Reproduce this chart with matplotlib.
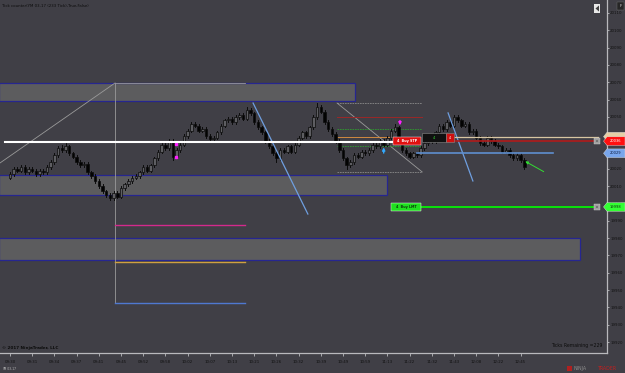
import matplotlib
matplotlib.use('Agg')
import matplotlib.pyplot as plt
from matplotlib.patches import Rectangle, Polygon
import matplotlib.transforms as mtransforms

# ---------------- data (233 tick bars, YM 03-17) ----------------
opens = [20015, 20017, 20020, 20019, 20021, 20018, 20020, 20019, 20017, 20019,
         20018, 20021, 20024, 20028, 20032, 20031, 20033, 20029, 20027, 20024,
         20022, 20023, 20018, 20016, 20013, 20010, 20007, 20005, 20003, 20006,
         20004, 20009, 20011, 20013, 20015, 20016, 20018, 20021, 20019, 20022,
         20026, 20030, 20034, 20032, 20036, 20027, 20031, 20034, 20039, 20042,
         20046, 20045, 20042, 20043, 20039, 20037, 20038, 20041, 20045, 20048,
         20049, 20047, 20050, 20051, 20049, 20054, 20052, 20047, 20044, 20041,
         20036, 20033, 20029, 20026, 20031, 20030, 20033, 20030, 20034, 20038,
         20041, 20039, 20044, 20050, 20056, 20053, 20047, 20043, 20040, 20036,
         20031, 20026, 20022, 20024, 20028, 20027, 20030, 20029, 20031, 20034,
         20033, 20036, 20034, 20038, 20042, 20044, 20036, 20031, 20029, 20027,
         20029, 20028, 20032, 20035, 20038, 20036, 20041, 20045, 20043, 20047,
         20045, 20050, 20048, 20045, 20046, 20041, 20042, 20038, 20035, 20034,
         20038, 20036, 20034, 20033, 20030, 20031, 20028, 20026, 20028, 20025]
highs = [20018, 20021, 20021, 20022, 20022, 20021, 20021, 20020, 20020, 20020,
         20022, 20025, 20029, 20033, 20034, 20035, 20034, 20030, 20028, 20025,
         20024, 20024, 20019, 20017, 20014, 20011, 20008, 20006, 20007, 20007,
         20010, 20012, 20014, 20016, 20017, 20019, 20022, 20022, 20023, 20027,
         20031, 20035, 20035, 20037, 20037, 20032, 20035, 20040, 20043, 20047,
         20047, 20046, 20044, 20044, 20040, 20039, 20042, 20046, 20049, 20050,
         20050, 20051, 20052, 20052, 20056, 20055, 20053, 20048, 20045, 20042,
         20037, 20034, 20030, 20032, 20032, 20034, 20034, 20035, 20039, 20042,
         20042, 20045, 20051, 20058, 20057, 20054, 20048, 20044, 20041, 20037,
         20032, 20027, 20025, 20029, 20029, 20031, 20031, 20032, 20035, 20035,
         20037, 20037, 20039, 20043, 20046, 20045, 20037, 20032, 20030, 20030,
         20030, 20033, 20036, 20039, 20039, 20042, 20046, 20046, 20048, 20048,
         20051, 20051, 20049, 20047, 20047, 20043, 20043, 20039, 20036, 20039,
         20039, 20037, 20035, 20034, 20032, 20032, 20029, 20029, 20029, 20026]
lows = [20014, 20016, 20018, 20018, 20017, 20017, 20018, 20016, 20016, 20017,
        20017, 20020, 20023, 20027, 20030, 20030, 20028, 20026, 20023, 20021,
        20021, 20017, 20015, 20012, 20009, 20006, 20004, 20002, 20002, 20003,
        20003, 20008, 20010, 20012, 20014, 20015, 20017, 20018, 20018, 20021,
        20025, 20029, 20031, 20031, 20025, 20026, 20030, 20033, 20038, 20041,
        20044, 20041, 20041, 20038, 20036, 20036, 20037, 20040, 20044, 20047,
        20046, 20046, 20049, 20048, 20048, 20051, 20046, 20043, 20040, 20035,
        20032, 20028, 20024, 20025, 20029, 20029, 20029, 20029, 20033, 20037,
        20038, 20038, 20043, 20049, 20052, 20046, 20042, 20039, 20035, 20030,
        20025, 20020, 20021, 20023, 20026, 20026, 20028, 20028, 20030, 20032,
        20032, 20033, 20033, 20037, 20041, 20035, 20030, 20028, 20026, 20026,
        20027, 20027, 20031, 20034, 20035, 20035, 20040, 20042, 20042, 20044,
        20044, 20047, 20044, 20044, 20040, 20040, 20037, 20034, 20033, 20033,
        20035, 20033, 20032, 20029, 20029, 20027, 20025, 20025, 20024, 20020]
closes = [20017, 20020, 20019, 20021, 20018, 20020, 20019, 20017, 20019, 20018,
          20021, 20024, 20028, 20032, 20031, 20033, 20029, 20027, 20024, 20022,
          20023, 20018, 20016, 20013, 20010, 20007, 20005, 20003, 20006, 20004,
          20009, 20011, 20013, 20015, 20016, 20018, 20021, 20019, 20022, 20026,
          20030, 20034, 20032, 20036, 20027, 20031, 20034, 20039, 20042, 20046,
          20045, 20042, 20043, 20039, 20037, 20038, 20041, 20045, 20048, 20049,
          20047, 20050, 20051, 20049, 20054, 20052, 20047, 20044, 20041, 20036,
          20033, 20029, 20026, 20031, 20030, 20033, 20030, 20034, 20038, 20041,
          20039, 20044, 20050, 20056, 20053, 20047, 20043, 20040, 20036, 20031,
          20026, 20022, 20024, 20028, 20027, 20030, 20029, 20031, 20034, 20033,
          20036, 20034, 20038, 20042, 20044, 20036, 20031, 20029, 20027, 20029,
          20028, 20032, 20035, 20038, 20036, 20041, 20045, 20043, 20047, 20045,
          20050, 20048, 20045, 20046, 20041, 20042, 20038, 20035, 20034, 20038,
          20036, 20034, 20033, 20030, 20031, 20028, 20026, 20028, 20025, 20021]

time_labels = ['09:30', '09:31', '09:34', '09:37', '09:41', '09:45', '09:52', '09:58',
               '10:02', '10:07', '10:13', '10:21', '10:26', '10:32', '10:39', '10:49',
               '10:59', '11:13', '11:22', '11:32', '11:43', '12:08', '12:22', '12:45']
label_bars = list(range(0, 139, 6))
price_ticks = list(range(19920, 20111, 10))

# drawing objects (bar index, price)
zone_start = [-3, -3, -3]
zone_end = [93.2, 101.9, 154.1]
zone_low = [20059.1, 20004.8, 19967.3]
zone_high = [20069.5, 20016.4, 19980.0]

fib_x = [28.4, 63.5]
fib_top = 20069.6
fib_levels = [19987.6, 19966.2, 19942.5]
fib_colors = ['#d42a8c', '#d0a040', '#4f78d0']
ray_x = [-2.7, 28.4]
ray_y = [20023.4, 20069.6]

trend1_x = [65.7, 80.5]
trend1_y = [20058.0, 19993.9]
trend2_x = [118.4, 125.1]
trend2_y = [20052.3, 20013.0]

tool_x = [88.4, 111.4]
tool_y = [20058.0, 20018.2]
tool_red = 20049.9
tool_green = [20043.0, 20033.2]
tool_orange = 20038.4

white_level = 20035.4
white_x = [-1.4, 104.0]
tan_level = 20038.2
red_level = 20036
blue_level = 20029
green_level = 19998
order_end = 158.9

# ---------------- figure ----------------
W, H = 625, 373
BG = '#403f46'
fig = plt.figure(figsize=(W / 100, H / 100), dpi=100, facecolor=BG)
ax = fig.add_axes([0, 20 / H, 607 / W, 353 / H])
ax.set_facecolor(BG)
ax.set_xlim(-2.7027, 161.35)
ax.set_ylim(20110 - 340 / 1.7316, 20110 + 13 / 1.7316)

for s in ['top', 'left']:
    ax.spines[s].set_visible(False)
for s in ['right', 'bottom']:
    ax.spines[s].set_color('#b9b9bd')
    ax.spines[s].set_linewidth(0.9)

ax.yaxis.tick_right()
ax.set_yticks(price_ticks)
ax.set_yticklabels([str(p) for p in price_ticks])
ax.tick_params(axis='y', direction='out', length=1.6, width=0.6, colors='#b9b9bd',
               labelcolor='#111111', labelsize=2.8, pad=0.6)
ax.set_xticks(label_bars)
ax.set_xticklabels(time_labels)
ax.tick_params(axis='x', direction='out', length=1.8, width=0.6, colors='#b9b9bd',
               labelcolor='#111111', labelsize=2.8, pad=3.5)

# zones
for x0, x1, lo, hi in zip(zone_start, zone_end, zone_low, zone_high):
    ax.add_patch(Rectangle((x0, lo), x1 - x0, hi - lo, facecolor='#5c5c5e',
                           edgecolor='#262690', linewidth=0.9, zorder=1))

# fib tool on the left
ax.plot(ray_x, ray_y, color='#9a9a9a', lw=0.6, zorder=2)
ax.plot(fib_x, [fib_top, fib_top], color='#9a9a9a', lw=0.6, zorder=2)
ax.plot([fib_x[0], fib_x[0]], [fib_levels[-1], fib_top], color='#9a9a9a', lw=0.6, zorder=2)
for lv, c in zip(fib_levels, fib_colors):
    ax.plot(fib_x, [lv, lv], color=c, lw=1.0, zorder=2)

# tool in the middle
ax.plot(tool_x, [tool_y[0], tool_y[0]], color='#8a8a8a', lw=0.6, ls=(0, (2, 1)), zorder=2)
ax.plot(tool_x, [tool_y[1], tool_y[1]], color='#8a8a8a', lw=0.6, ls=(0, (2, 1)), zorder=2)
ax.plot(tool_x, tool_y, color='#9a9a9a', lw=0.6, zorder=2)
ax.plot(tool_x, [tool_red, tool_red], color='#9a2828', lw=0.7, zorder=2)
for g in tool_green:
    ax.plot(tool_x, [g, g], color='#2f9a2f', lw=0.6, ls=(0, (2, 1)), zorder=2)
ax.plot([tool_x[0], 104], [tool_orange, tool_orange], color='#d08a40', lw=0.7, zorder=2)

# candles
for i, (o, h, l, c) in enumerate(zip(opens, highs, lows, closes)):
    ax.plot([i, i], [l, h], color='#0c0c0c', lw=0.7, zorder=3)
    up = c >= o
    ax.add_patch(Rectangle((i - 0.35, min(o, c)), 0.7, max(abs(c - o), 0.5),
                           facecolor='#5e5e62' if up else '#030303',
                           edgecolor='#0c0c0c', linewidth=0.5, zorder=4))

# trend lines
ax.plot(trend1_x, trend1_y, color='#6f9fe0', lw=0.9, zorder=5)
ax.plot(trend2_x, trend2_y, color='#6f9fe0', lw=0.9, zorder=5)

# markers
ax.plot([44.9], [20034.3], marker='s', ms=1.6, color='#ff20ff', zorder=6, ls='none')
ax.plot([44.9], [20026.8], marker='s', ms=1.6, color='#ff20ff', zorder=6, ls='none')
ax.annotate('', xy=(101, 20034.0), xytext=(101, 20027.5),
            arrowprops=dict(arrowstyle='-|>', color='#33aaff', lw=1.0, mutation_scale=4), zorder=6)
ax.annotate('', xy=(105.4, 20043.5), xytext=(105.4, 20049.5),
            arrowprops=dict(arrowstyle='-|>', color='#ff20ff', lw=1.0, mutation_scale=4), zorder=6)
ax.annotate('', xy=(138.6, 20025.1), xytext=(144.9, 20017.6),
            arrowprops=dict(arrowstyle='-|>', color='#33dd33', lw=0.7, mutation_scale=4), zorder=6)

# order / position lines
ax.plot(white_x, [white_level, white_level], color='#ffffff', lw=1.5, zorder=6)
ax.plot([119.7, order_end], [tan_level, tan_level], color='#d8c6a2', lw=0.9, zorder=6)
ax.plot([119.7, order_end], [red_level, red_level], color='#b01a1a', lw=1.2, zorder=6)
ax.plot([110, 146.8], [blue_level, blue_level], color='#5f8fd0', lw=1.2, zorder=6)
ax.plot([111.1, order_end], [green_level, green_level], color='#00ff00', lw=1.2, zorder=6)

# order labels
ax.add_patch(Rectangle((103.4, red_level - 2.4), 7.7, 4.6, facecolor='#e01010',
                       edgecolor='#ffffff', linewidth=0.3, zorder=7))
ax.text(107.25, red_level - 0.1, '4  Buy STP', color='white', fontsize=2.4,
        ha='center', va='center', fontweight='bold', zorder=8)
ax.add_patch(Rectangle((111.4, 20035.5), 6.4, 5.2, facecolor='#101010',
                       edgecolor='#8a8a8a', linewidth=0.4, zorder=7))
ax.text(114.6, 20038.1, '4', color='#30e030', fontsize=2.6, ha='center', va='center', zorder=8)
ax.add_patch(Rectangle((117.8, 20035.5), 2.1, 5.2, facecolor='#d01010',
                       edgecolor='#8a8a8a', linewidth=0.4, zorder=7))
ax.text(118.85, 20038.1, '4', color='white', fontsize=2.4, ha='center', va='center', zorder=8)
ax.add_patch(Rectangle((103.0, green_level - 2.3), 8.1, 4.6, facecolor='#20e020',
                       edgecolor='#ffffff', linewidth=0.3, zorder=7))
ax.text(107.05, green_level - 0.1, '4  Buy LMT', color='#0a3a0a', fontsize=2.4,
        ha='center', va='center', fontweight='bold', zorder=8)

# close buttons
for lv in [red_level, green_level]:
    ax.add_patch(Rectangle((157.8, lv - 1.7), 1.7, 3.4, facecolor='#a0a0a0',
                           edgecolor='#d0d0d0', linewidth=0.3, zorder=7, clip_on=False))
    ax.text(158.65, lv, 'x', color='#202020', fontsize=2.4, ha='center', va='center', zorder=8)

# price tags on the axis
bt = mtransforms.blended_transform_factory(fig.transFigure, ax.transData)
def tag(level, fc, tc, txt):
    x0, x1, xp = 607 / W, 625 / W, 603.5 / W
    hh = 2.5
    pts = [(xp, level), (x0, level + hh), (x1, level + hh), (x1, level - hh), (x0, level - hh)]
    fig.add_artist(Polygon(pts, closed=True, facecolor=fc, edgecolor='#dddddd',
                           linewidth=0.3, transform=bt, zorder=9))
    if txt:
        fig.text(615.5 / W, level, txt, transform=bt, color=tc, fontsize=2.6,
                 ha='center', va='center', zorder=10)

tag(20038.6, '#e6cfa6', '#2a2a2a', '')
tag(red_level, '#ff1010', '#ffffff', '20036')
tag(blue_level, '#79a6ec', '#0a1a40', '20029')
tag(green_level, '#33ff33', '#0a300a', '19998')

# texts
fig.text(2 / W, 1 - 6 / H, 'Tick counter(YM 03-17 (233 Tick),True,False)', fontsize=2.8,
         color='#0c0c0c', ha='left', va='center')
fig.text(2 / W, 1 - 348 / H, '\u00a9 2017 NinjaTrader, LLC', fontsize=3.0,
         color='#0c0c0c', ha='left', va='center', fontweight='bold')
fig.text(2 / W, 1 - 369 / H, 'YM 03-17', fontsize=2.2, color='#b8b8b8', ha='left', va='center')
fig.text(602 / W, 1 - 345 / H, 'Ticks Remaining =229', fontsize=3.3, color='#0c0c0c',
         ha='right', va='center')
fig.text(574 / W, 1 - 368.5 / H, 'NINJA', fontsize=3.4, color='#8c8c8c', ha='left', va='center')
fig.text(598 / W, 1 - 368.5 / H, 'TRADER', fontsize=3.4, color='#c02020', ha='left', va='center')
fig.add_artist(Rectangle((567 / W, 1 - 371 / H), 5 / W, 5 / H, transform=fig.transFigure,
                         facecolor='#b02020', edgecolor='none'))

# top-right buttons
fig.add_artist(Rectangle((617 / W, 1 - 10 / H), 7 / W, 8 / H, transform=fig.transFigure,
                         facecolor='#262626', edgecolor='#707070', linewidth=0.3))
fig.text(620.5 / W, 1 - 6 / H, 'F', fontsize=3.0, color='#d0d0d0', ha='center', va='center')
fig.add_artist(Rectangle((594 / W, 1 - 13 / H), 6 / W, 9 / H, transform=fig.transFigure,
                         facecolor='#e8e8e8', edgecolor='none'))
fig.add_artist(Polygon([(595.5 / W, 1 - 8.5 / H), (599 / W, 1 - 5.5 / H), (599 / W, 1 - 11.5 / H)],
                       closed=True, transform=fig.transFigure, facecolor='#404040', edgecolor='none'))

fig.savefig('out.png', dpi=100, facecolor=BG)
